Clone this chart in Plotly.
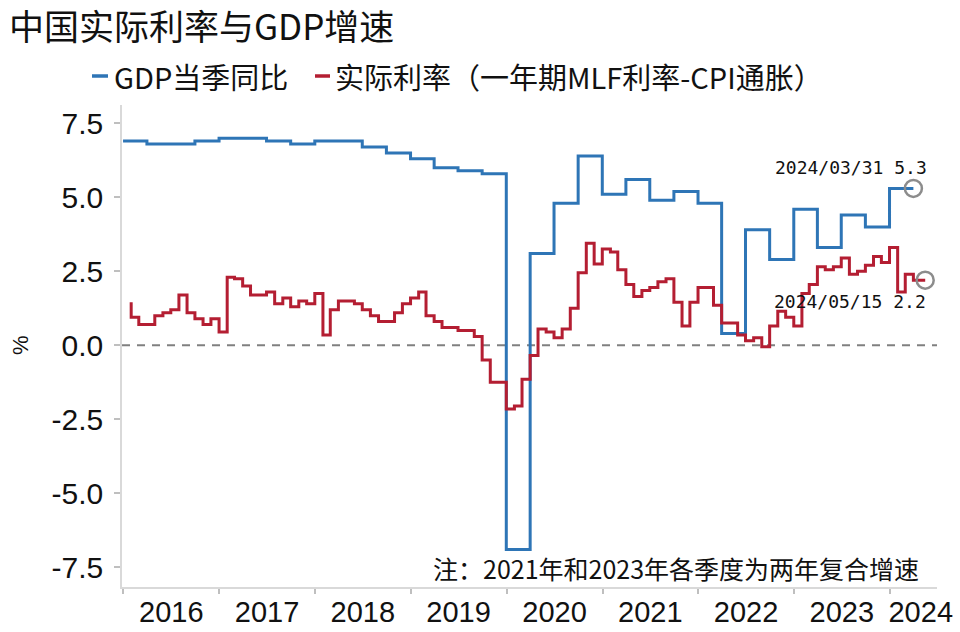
import pandas as pd
import plotly.graph_objects as go

# ---------------- data ----------------
# GDP yoy (%), quarter-end dates 2015Q4 .. 2024Q1 (2021 & 2023: two-year compound growth)
gdp_values = [6.9,
              6.9, 6.8, 6.8, 6.9,
              7.0, 7.0, 6.9, 6.8,
              6.9, 6.9, 6.7, 6.5,
              6.3, 6.0, 5.9, 5.8,
              -6.9, 3.1, 4.8, 6.4,
              5.1, 5.6, 4.9, 5.2,
              4.8, 0.4, 3.9, 2.9,
              4.6, 3.3, 4.4, 4.0,
              5.3]
gdp_dates = [d.strftime("%Y-%m-%d") for d in
             pd.date_range("2015-12-31", "2024-03-31", freq=pd.offsets.QuarterEnd())]

# Real rate (1Y MLF - CPI yoy, %), month-end 2016-01 .. 2024-04, plus 2024-05-15
real_values = [1.45, 0.95, 0.70, 0.70, 1.00, 1.10, 1.20, 1.70, 1.10, 0.90, 0.70, 0.90,
               0.45, 2.30, 2.25, 2.00, 1.70, 1.70, 1.80, 1.40, 1.60, 1.30, 1.50, 1.40,
               1.75, 0.35, 1.20, 1.50, 1.50, 1.40, 1.20, 1.00, 0.80, 0.80, 1.10, 1.40,
               1.60, 1.80, 1.00, 0.80, 0.60, 0.60, 0.50, 0.50, 0.30, -0.50, -1.25, -1.25,
               -2.15, -2.05, -1.15, -0.35, 0.55, 0.45, 0.25, 0.55, 1.25, 2.45, 3.45, 2.75,
               3.25, 3.15, 2.55, 2.05, 1.65, 1.85, 1.95, 2.15, 2.25, 1.45, 0.65, 1.45,
               1.95, 1.95, 1.35, 0.75, 0.75, 0.35, 0.15, 0.25, -0.05, 0.65, 1.15, 0.95,
               0.65, 1.75, 2.05, 2.65, 2.55, 2.65, 2.95, 2.40, 2.50, 2.70, 3.00, 2.80,
               3.30, 1.80, 2.40, 2.20,
               2.20]
real_dates = [d.strftime("%Y-%m-%d") for d in
              pd.date_range("2016-01-31", "2024-04-30", freq=pd.offsets.MonthEnd())] + ["2024-05-15"]

year_labels = ["2016", "2017", "2018", "2019", "2020", "2021", "2022", "2023", "2024"]
y_ticks = [7.5, 5.0, 2.5, 0.0, -2.5, -5.0, -7.5]

series_names = ["GDP当季同比", "实际利率（一年期MLF利率-CPI通胀）"]
title_text = "中国实际利率与GDP增速"
note_text = "注：2021年和2023年各季度为两年复合增速"

# ---------------- style ----------------
BLUE = "#2E75B6"
RED = "#B41E32"
GRAY = "#8C8C8C"
AXIS = "#D9D9D9"
CJK = "Noto Sans CJK SC"
LAT = "Liberation Sans"

W, H = 960, 632
ML, MR, MT, MB = 122, 23, 105, 45
PW, PH = W - ML - MR, H - MT - MB


def px(x):
    return (x - ML) / PW


def py(y):
    return (H - MB - y) / PH


fig = go.Figure()

fig.add_trace(go.Scatter(x=gdp_dates, y=gdp_values, mode="lines", line_shape="vh",
                         line=dict(color=BLUE, width=3), name=series_names[0],
                         showlegend=False))
fig.add_trace(go.Scatter(x=real_dates, y=real_values, mode="lines", line_shape="vh",
                         line=dict(color=RED, width=3), name=series_names[1],
                         showlegend=False))

# end-point circles
fig.add_trace(go.Scatter(x=[gdp_dates[-1], real_dates[-1]], y=[gdp_values[-1], real_values[-1]],
                         mode="markers", showlegend=False,
                         marker=dict(symbol="circle-open", size=17, color=GRAY,
                                     line=dict(width=2.5, color=GRAY))))

# zero reference line
fig.add_shape(type="line", xref="paper", yref="y", x0=0, x1=1, y0=0, y1=0,
              line=dict(color="#808080", width=2, dash="8px,7px"), layer="below")

annotations = []
# title
annotations.append(dict(text=title_text, xref="paper", yref="paper", x=px(7), y=py(25),
                        xanchor="left", yanchor="middle", showarrow=False,
                        font=dict(family=CJK, size=35, color="#111111")))
# legend (manual)
leg_y = py(76)
for x0, x1, tx, col, name in [(92, 108, 112, BLUE, series_names[0]),
                              (315, 330, 333, RED, series_names[1])]:
    fig.add_shape(type="line", xref="paper", yref="paper", x0=px(x0), x1=px(x1),
                  y0=leg_y, y1=leg_y, line=dict(color=col, width=3.5))
    annotations.append(dict(text=name, xref="paper", yref="paper", x=px(tx), y=leg_y,
                            xanchor="left", yanchor="middle", showarrow=False,
                            font=dict(family=CJK, size=29, color="#111111")))
# y-axis title
annotations.append(dict(text="%", xref="paper", yref="paper", x=px(20), y=py(345),
                        xanchor="center", yanchor="middle", textangle=-90, showarrow=False,
                        font=dict(family=LAT, size=22, color="#111111")))
# note
annotations.append(dict(text=note_text, xref="paper", yref="paper", x=px(921), y=py(568),
                        xanchor="right", yanchor="middle", showarrow=False,
                        font=dict(family=CJK, size=25, color="#111111")))
# end-point labels
annotations.append(dict(text=f"{gdp_dates[-1].replace('-', '/')} {gdp_values[-1]:.1f}",
                        x=gdp_dates[-1], y=gdp_values[-1], xref="x", yref="y",
                        xanchor="right", yanchor="middle", xshift=16, yshift=21,
                        showarrow=False,
                        font=dict(family="DejaVu Sans Mono", size=18, color="#111111")))
annotations.append(dict(text=f"{real_dates[-1].replace('-', '/')} {real_values[-1]:.1f}",
                        x=real_dates[-1], y=real_values[-1], xref="x", yref="y",
                        xanchor="right", yanchor="middle", xshift=3, yshift=-21,
                        showarrow=False,
                        font=dict(family="DejaVu Sans Mono", size=18, color="#111111")))

# x axis: year boundaries as ticks, labels centred in each year
year_starts = [f"{y}-01-01" for y in year_labels]
label_pos = [f"{y}-07-02" for y in year_labels[:-1]] + ["2024-04-28"]

fig.update_layout(
    width=W, height=H,
    margin=dict(l=ML, r=MR, t=MT, b=MB, autoexpand=False),
    paper_bgcolor="white", plot_bgcolor="white",
    font=dict(family=LAT, color="#111111"),
    annotations=annotations,
    showlegend=False,
    xaxis=dict(type="date", range=["2015-12-27", "2024-06-29"], automargin=False,
               tickmode="array", tickvals=label_pos, ticktext=year_labels,
               ticks="", showgrid=False, zeroline=False,
               showline=True, linecolor=AXIS, linewidth=1.5,
               tickfont=dict(family=LAT, size=29, color="#111111"),
               ticklabelstandoff=-2,
               minor=dict(tickmode="array", tickvals=year_starts, ticks="outside",
                          ticklen=5, tickwidth=1.5, tickcolor="#BFBFBF", showgrid=False)),
    yaxis=dict(range=[-8.17, 8.12], tickmode="array", tickvals=y_ticks, automargin=False,
               ticktext=[f"{v:.1f}" for v in y_ticks],
               ticks="outside", ticklen=6, tickwidth=1.5, tickcolor="#BFBFBF",
               showgrid=False, zeroline=False,
               showline=True, linecolor=AXIS, linewidth=1.5,
               tickfont=dict(family=LAT, size=30, color="#111111"),
               ticklabelstandoff=5),
)

fig.write_html("out.html", config={"displayModeBar": False},
               post_script="document.body.style.margin='0';document.body.style.padding='0';")
